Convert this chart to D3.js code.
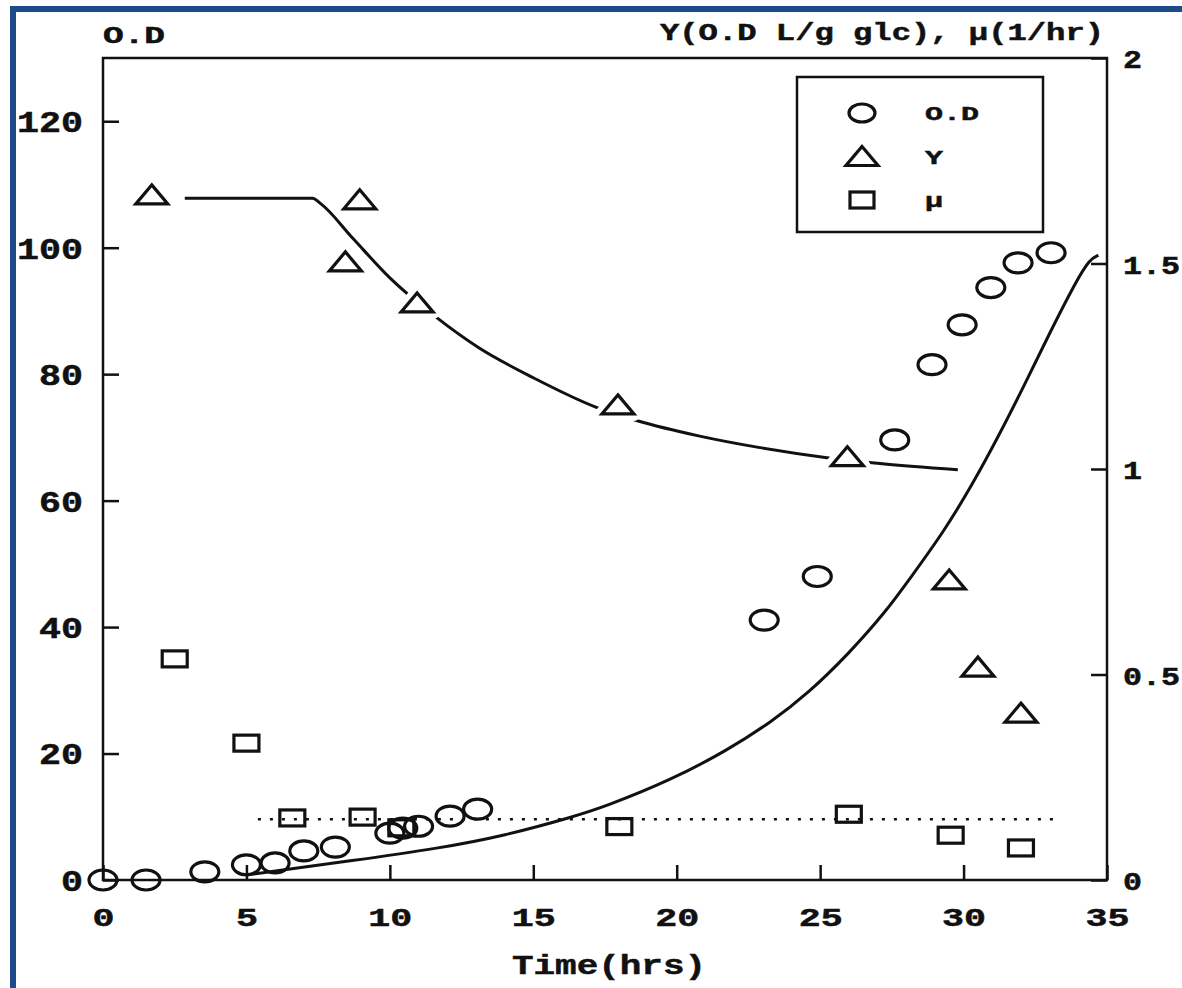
<!DOCTYPE html>
<html>
<head>
<meta charset="utf-8">
<script src="https://cdn.jsdelivr.net/npm/d3@7"></script>
<style>
  html, body { margin: 0; padding: 0; background: #fff; }
  svg text { font-family: "Liberation Mono", "DejaVu Sans Mono", monospace; font-weight: bold; fill: #111; stroke: #111; stroke-width: 0.5px; }
</style>
</head>
<body>
<div id="chart"></div>
<script>
// Plot constants
const WIDTH = 1182;
const HEIGHT = 988;

// O.D measurements (left axis)
const odTime = [0, 1.5, 3.55, 5.0, 6.0, 7.0, 8.1, 10.0, 10.45, 11.0, 12.1, 13.06, 23.05, 24.9, 27.6, 28.9, 29.95, 30.95, 31.9, 33.05];
const odValue = [0, 0, 1.3, 2.4, 2.7, 4.6, 5.2, 7.4, 8.2, 8.5, 10.1, 11.2, 41.1, 48, 69.6, 81.5, 87.8, 93.7, 97.6, 99.2];

// Yield Y (right axis)
const yTime = [1.7, 8.45, 8.95, 10.95, 17.95, 25.95, 29.5, 30.5, 32.0];
const yValue = [1.667, 1.504, 1.655, 1.404, 1.156, 1.03, 0.73, 0.518, 0.406];

// growth rate mu (right axis)
const muTime = [2.5, 5.0, 6.6, 9.05, 10.4, 18.0, 26.0, 29.55, 32.0];
const muValue = [0.538, 0.333, 0.151, 0.153, 0.127, 0.13, 0.16, 0.109, 0.078];

// fitted curves
const odFitTime = [5.0, 6.0, 8.6, 11.7, 14.0, 16.4, 17.5, 19.8, 21.8, 23.3, 24.6, 26.0, 27.3, 28.1, 29.3, 30.3, 31.2, 32.2, 33.0, 33.9, 34.4, 34.7];
const odFitValue = [0.8, 1.4, 3.0, 5.0, 7.0, 10.0, 11.6, 15.8, 20.6, 25.0, 29.6, 35.8, 42.5, 47.5, 55, 62.5, 70, 79, 86.5, 94.5, 98.2, 98.8];
const yFitTime = [2.85, 7.3, 7.6, 8.7, 10.0, 11.6, 13.1, 15.0, 17.2, 18.6, 20.8, 22.9, 25.3, 27.0, 29.8];
const yFitValue = [1.659, 1.659, 1.645, 1.562, 1.465, 1.37, 1.295, 1.222, 1.150, 1.118, 1.080, 1.052, 1.027, 1.014, 0.998];
const muMeanTime = [5.4, 33.2];
const muMeanValue = [0.148, 0.148];

// ticks and labels
const xTicks = [0, 5, 10, 15, 20, 25, 30, 35];
const leftTicks = [0, 20, 40, 60, 80, 100, 120];
const rightTicks = [0, 0.5, 1, 1.5, 2];
const legendNames = ["O.D", "Y", "\u03bc"];
const leftTitle = "O.D";
const rightTitle = "Y(O.D L/g glc), \u03bc(1/hr)";
const xTitle = "Time(hrs)";

const zip = (a, b) => a.map((d, i) => [d, b[i]]);

const svg = d3.select("#chart").append("svg")
  .attr("width", WIDTH)
  .attr("height", HEIGHT);

svg.append("rect").attr("width", WIDTH).attr("height", HEIGHT).attr("fill", "#fff");

// blue frame of the scan
svg.append("rect")
  .attr("x", 13).attr("y", 9)
  .attr("width", WIDTH).attr("height", HEIGHT)
  .attr("fill", "none")
  .attr("stroke", "#1d4a8a")
  .attr("stroke-width", 6);

// scales
const x = d3.scaleLinear().domain([0, 35]).range([103, 1107]);
const yL = d3.scaleLinear().domain([0, 130]).range([880, 58]);
const yR = d3.scaleLinear().domain([0, 2]).range([880, 58]);

const g = svg.append("g");

// axes (ticks point inward)
const styleAxis = (sel) => {
  sel.select(".domain").remove();
  sel.selectAll(".tick line").attr("stroke", "#111").attr("stroke-width", 2.5);
  sel.selectAll(".tick text").style("font-size", null);
};

const xAxis = g.append("g")
  .attr("transform", `translate(0,${yL(0)})`)
  .call(d3.axisBottom(x).tickValues(xTicks).tickSizeInner(-15).tickSizeOuter(0).tickFormat(d => String(d)))
  .call(styleAxis);
xAxis.selectAll(".tick text")
  .attr("y", 46).attr("dy", 0)
  .attr("font-size", 26)
  .attr("textLength", d => String(d).length * 22)
  .attr("lengthAdjust", "spacingAndGlyphs");

const leftAxis = g.append("g")
  .attr("transform", `translate(${x(0)},0)`)
  .call(d3.axisLeft(yL).tickValues(leftTicks).tickSizeInner(-16).tickSizeOuter(0).tickFormat(d => String(d)))
  .call(styleAxis);
leftAxis.selectAll(".tick text")
  .attr("x", -20).attr("dy", "0.36em")
  .attr("font-size", 29)
  .attr("textLength", d => String(d).length * 22)
  .attr("lengthAdjust", "spacingAndGlyphs");

const rightAxis = g.append("g")
  .attr("transform", `translate(${x(35)},0)`)
  .call(d3.axisRight(yR).tickValues(rightTicks).tickSizeInner(-16).tickSizeOuter(0).tickFormat(d => String(d)))
  .call(styleAxis);
rightAxis.selectAll(".tick text")
  .attr("x", 16).attr("dy", "0.38em")
  .attr("font-size", 25)
  .attr("textLength", d => String(d).length * 19)
  .attr("lengthAdjust", "spacingAndGlyphs");

// plot frame
g.append("rect")
  .attr("x", x(0)).attr("y", yL(130))
  .attr("width", x(35) - x(0)).attr("height", yL(0) - yL(130))
  .attr("fill", "none")
  .attr("stroke", "#111")
  .attr("stroke-width", 2.5);

// titles
g.append("text").attr("x", x(0)).attr("y", 43)
  .attr("font-size", 23)
  .attr("textLength", 62).attr("lengthAdjust", "spacingAndGlyphs")
  .text(leftTitle);
g.append("text").attr("x", 1104).attr("y", 40)
  .attr("text-anchor", "end")
  .attr("font-size", 23)
  .attr("textLength", 444).attr("lengthAdjust", "spacingAndGlyphs")
  .text(rightTitle);
g.append("text").attr("x", 609).attr("y", 974)
  .attr("text-anchor", "middle")
  .attr("font-size", 28)
  .attr("textLength", 194).attr("lengthAdjust", "spacingAndGlyphs")
  .text(xTitle);

// fitted curves
const lineL = d3.line().x(d => x(d[0])).y(d => yL(d[1])).curve(d3.curveBasis);
const lineR = d3.line().x(d => x(d[0])).y(d => yR(d[1])).curve(d3.curveMonotoneX);

g.append("path").datum(zip(odFitTime, odFitValue))
  .attr("d", lineL)
  .attr("fill", "none").attr("stroke", "#111").attr("stroke-width", 3);

g.append("path").datum(zip(yFitTime, yFitValue))
  .attr("d", lineR)
  .attr("fill", "none").attr("stroke", "#111").attr("stroke-width", 3);

g.append("path").datum(zip(muMeanTime, muMeanValue))
  .attr("d", lineR)
  .attr("fill", "none").attr("stroke", "#111")
  .attr("stroke-width", 2.5).attr("stroke-dasharray", "3 9");

// marker shapes
const triPath = (cx, cy) => `M${cx},${cy - 10}L${cx + 16},${cy + 9}L${cx - 16},${cy + 9}Z`;

function drawTriangles(sel, data, yScale) {
  sel.selectAll("path.halo").data(data).join("path")
    .attr("class", "halo")
    .attr("d", d => triPath(x(d[0]), yScale(d[1])))
    .attr("fill", "#fff").attr("stroke", "#fff").attr("stroke-width", 14)
    .attr("stroke-linejoin", "round");
  sel.selectAll("path.tri").data(data).join("path")
    .attr("class", "tri")
    .attr("d", d => triPath(x(d[0]), yScale(d[1])))
    .attr("fill", "#fff").attr("stroke", "#111").attr("stroke-width", 3.2);
}

drawTriangles(g.append("g"), zip(yTime, yValue), yR);

g.append("g").selectAll("rect").data(zip(muTime, muValue)).join("rect")
  .attr("x", d => x(d[0]) - 12.5).attr("y", d => yR(d[1]) - 8)
  .attr("width", 25).attr("height", 16)
  .attr("fill", "none").attr("stroke", "#111").attr("stroke-width", 3.2);

g.append("g").selectAll("ellipse").data(zip(odTime, odValue)).join("ellipse")
  .attr("cx", d => x(d[0])).attr("cy", d => yL(d[1]))
  .attr("rx", 14).attr("ry", 10)
  .attr("fill", "none").attr("stroke", "#111").attr("stroke-width", 3.2);

// legend
const legend = g.append("g");
legend.append("rect")
  .attr("x", 797).attr("y", 77).attr("width", 246).attr("height", 155)
  .attr("fill", "#fff").attr("stroke", "#111").attr("stroke-width", 2.5);

const rowY = d3.scalePoint().domain(legendNames).range([113, 200]);
legend.append("ellipse")
  .attr("cx", 862).attr("cy", rowY(legendNames[0]))
  .attr("rx", 13).attr("ry", 9)
  .attr("fill", "none").attr("stroke", "#111").attr("stroke-width", 3.2);
legend.append("path")
  .attr("d", triPath(862, rowY(legendNames[1])))
  .attr("fill", "none").attr("stroke", "#111").attr("stroke-width", 3.2);
legend.append("rect")
  .attr("x", 850).attr("y", rowY(legendNames[2]) - 8)
  .attr("width", 24).attr("height", 16)
  .attr("fill", "none").attr("stroke", "#111").attr("stroke-width", 3.2);

legend.selectAll("text.lab").data(legendNames).join("text")
  .attr("class", "lab")
  .attr("x", 925).attr("y", d => rowY(d)).attr("dy", "0.36em")
  .attr("font-size", 20)
  .attr("textLength", d => d.length * 18)
  .attr("lengthAdjust", "spacingAndGlyphs")
  .text(d => d);
</script>
</body>
</html>
